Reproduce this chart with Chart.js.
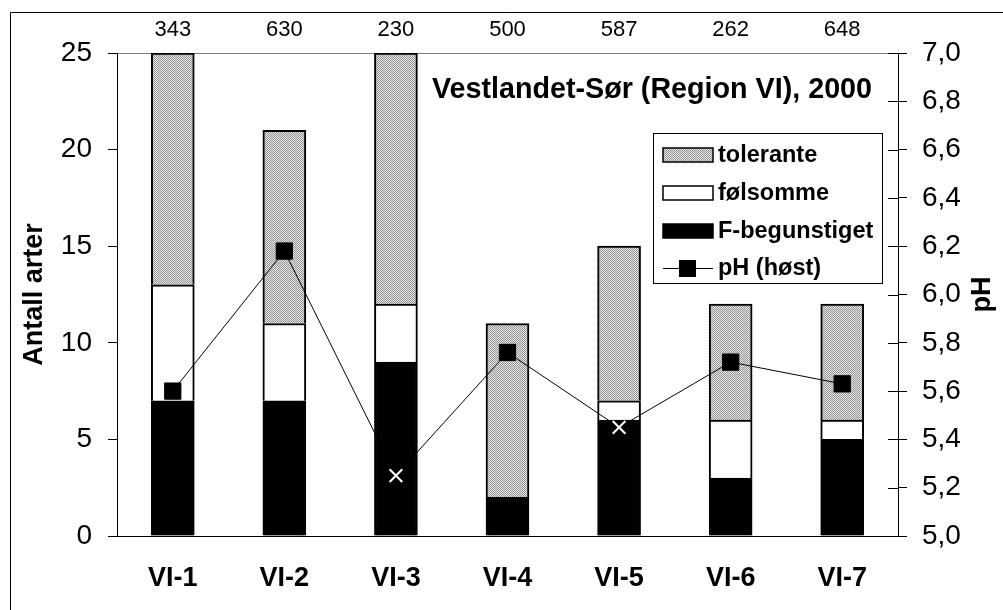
<!DOCTYPE html>
<html>
<head>
<meta charset="utf-8">
<script src="https://cdn.jsdelivr.net/npm/chart.js@4/dist/chart.umd.min.js"></script>
<style>
  html, body { margin: 0; padding: 0; background: #fff; }
  #wrap { width: 1003px; height: 610px; }
</style>
</head>
<body>
<div id="wrap"><canvas id="c" width="1003" height="610"></canvas></div>
<script>
// Sites and number of samples per site
const categories = ['VI-1', 'VI-2', 'VI-3', 'VI-4', 'VI-5', 'VI-6', 'VI-7'];
const sampleCounts = ['343', '630', '230', '500', '587', '262', '648'];

// Number of species per tolerance group (stacked, bottom to top)
const fBegunstiget = [7, 7, 9, 2, 6, 3, 5];
const folsomme = [6, 4, 3, 0, 1, 3, 1];
const tolerante = [12, 10, 13, 9, 8, 6, 6];

// Autumn pH per site
const phHost = [5.6, 6.18, 5.25, 5.76, 5.45, 5.72, 5.63];

const chartTitle = 'Vestlandet-Sør (Region VI), 2000';
const leftAxisTitle = 'Antall arter';
const rightAxisTitle = 'pH';
const legendLabels = ['tolerante', 'følsomme', 'F-begunstiget', 'pH (høst)'];

const FONT = '"Liberation Sans", Arial, sans-serif';

// fine dotted grey fill used for the "tolerante" segments
function dotPattern() {
  const p = document.createElement('canvas');
  p.width = 2; p.height = 2;
  const g = p.getContext('2d');
  g.fillStyle = '#e2e2e2'; g.fillRect(0, 0, 2, 2);
  g.fillStyle = '#989898'; g.fillRect(0, 0, 1, 1); g.fillRect(1, 1, 1, 1);
  return g.createPattern(p, 'repeat');
}
const grey = dotPattern();

// low-pH sites are marked with a white cross instead of a black square
const lowPh = phHost.map(v => v < 5.5);
const ptStyle = lowPh.map(l => l ? 'crossRot' : 'rect');
const ptRadius = lowPh.map(l => l ? 9 : 11.5);
const ptColor = lowPh.map(l => l ? '#ffffff' : '#000000');
const ptBorderW = lowPh.map(l => l ? 2 : 1);

const decor = {
  id: 'decor',
  beforeDraw(chart) {
    const ctx = chart.ctx;
    ctx.save();
    ctx.fillStyle = '#fff';
    ctx.fillRect(0, 0, chart.width, chart.height);
    // outer frame
    ctx.strokeStyle = '#000';
    ctx.lineWidth = 1;
    ctx.beginPath();
    ctx.moveTo(10.5, chart.height);
    ctx.lineTo(10.5, 12.5);
    ctx.lineTo(chart.width, 12.5);
    ctx.stroke();
    ctx.restore();
  },
  afterDraw(chart) {
    const ctx = chart.ctx;
    const a = chart.chartArea;
    const y2 = chart.scales.y2;
    ctx.save();
    // inner half of the right axis tick marks
    ctx.strokeStyle = '#000';
    ctx.lineWidth = 1;
    ctx.beginPath();
    y2.ticks.forEach(t => {
      const py = Math.round(y2.getPixelForValue(t.value)) + 0.5;
      ctx.moveTo(a.right - 10, py);
      ctx.lineTo(a.right, py);
    });
    ctx.stroke();

    // axis titles, both reading bottom to top
    ctx.fillStyle = '#000';
    ctx.font = 'bold 27px ' + FONT;
    ctx.textAlign = 'center';
    ctx.textBaseline = 'middle';
    const cy = (a.top + a.bottom) / 2;
    [[35, leftAxisTitle], [983, rightAxisTitle]].forEach(([x, txt]) => {
      ctx.save();
      ctx.translate(x, cy);
      ctx.rotate(-Math.PI / 2);
      ctx.fillText(txt, 0, 0);
      ctx.restore();
    });

    // chart title inside the plot
    ctx.font = 'bold 28.7px ' + FONT;
    ctx.textAlign = 'right';
    ctx.fillText(chartTitle, 872, 90);

    // legend box
    const lx = 653, ly = 133, lw = 229, lh = 150;
    ctx.fillStyle = '#fff';
    ctx.fillRect(lx, ly, lw, lh);
    ctx.strokeStyle = '#000';
    ctx.lineWidth = 1;
    ctx.strokeRect(lx + 0.5, ly + 0.5, lw, lh);
    const rows = [155, 193, 231, 268];
    const fills = [grey, '#fff', '#000'];
    ctx.lineWidth = 1.5;
    for (let i = 0; i < 3; i++) {
      ctx.fillStyle = fills[i];
      ctx.fillRect(663, rows[i] - 7, 50, 14);
      ctx.strokeStyle = '#000';
      ctx.strokeRect(663, rows[i] - 7, 50, 14);
    }
    ctx.lineWidth = 1;
    ctx.beginPath();
    ctx.moveTo(663, rows[3] + 0.5);
    ctx.lineTo(713, rows[3] + 0.5);
    ctx.stroke();
    ctx.fillStyle = '#000';
    ctx.fillRect(679, rows[3] - 8, 17, 17);

    ctx.font = 'bold 23.5px ' + FONT;
    ctx.textAlign = 'left';
    ctx.textBaseline = 'middle';
    legendLabels.forEach((t, i) => ctx.fillText(t, 718, rows[i] + 1));
    ctx.restore();
  }
};

const barCommon = {
  type: 'bar',
  xAxisID: 'x',
  yAxisID: 'y',
  stack: 'arter',
  order: 2,
  borderColor: '#000',
  borderWidth: 2,
  borderSkipped: 'start',
  barThickness: 43
};

new Chart(document.getElementById('c'), {
  data: {
    labels: categories,
    datasets: [
      Object.assign({}, barCommon, { label: legendLabels[2], data: fBegunstiget, backgroundColor: '#000' }),
      Object.assign({}, barCommon, { label: legendLabels[1], data: folsomme, backgroundColor: '#fff' }),
      Object.assign({}, barCommon, { label: legendLabels[0], data: tolerante, backgroundColor: grey }),
      {
        type: 'line',
        label: legendLabels[3],
        data: phHost,
        xAxisID: 'x',
        yAxisID: 'y2',
        order: 1,
        borderColor: '#000',
        borderWidth: 1,
        tension: 0,
        fill: false,
        pointStyle: ptStyle,
        pointRadius: ptRadius,
        pointBackgroundColor: ptColor,
        pointBorderColor: ptColor,
        pointBorderWidth: ptBorderW
      }
    ]
  },
  options: {
    responsive: false,
    animation: false,
    events: [],
    layout: { padding: 0 },
    plugins: { legend: { display: false }, tooltip: { enabled: false }, title: { display: false } },
    scales: {
      x: {
        type: 'category',
        position: 'bottom',
        stacked: true,
        offset: true,
        grid: { display: false, drawTicks: false },
        border: { display: true, color: '#000', width: 1 },
        ticks: { color: '#000', padding: 26, font: { family: FONT, size: 27, weight: 'bold' }, maxRotation: 0, autoSkip: false },
        afterFit(s) { s.height = 74; }
      },
      x2: {
        type: 'category',
        position: 'top',
        labels: sampleCounts,
        offset: true,
        grid: { display: false, drawTicks: false },
        border: { display: true, color: '#808080', width: 1 },
        ticks: { color: '#000', padding: 10, font: { family: FONT, size: 22 }, maxRotation: 0, autoSkip: false },
        afterFit(s) { s.height = 53; }
      },
      y: {
        type: 'linear',
        position: 'left',
        stacked: true,
        min: 0,
        max: 25,
        ticks: { stepSize: 5, color: '#000', padding: 16, font: { family: FONT, size: 28 } },
        grid: { drawOnChartArea: false, color: '#000', tickLength: 9 },
        border: { display: true, color: '#000', width: 1 },
        afterFit(s) { s.width = 117; }
      },
      y2: {
        type: 'linear',
        position: 'right',
        min: 5,
        max: 7,
        ticks: {
          stepSize: 0.2,
          color: '#000',
          padding: 15,
          font: { family: FONT, size: 28 },
          callback: v => v.toFixed(1).replace('.', ',')
        },
        grid: { drawOnChartArea: false, color: '#000', tickLength: 9 },
        border: { display: true, color: '#000', width: 1 },
        afterFit(s) { s.width = 105; }
      }
    }
  },
  plugins: [decor]
});
</script>
</body>
</html>
